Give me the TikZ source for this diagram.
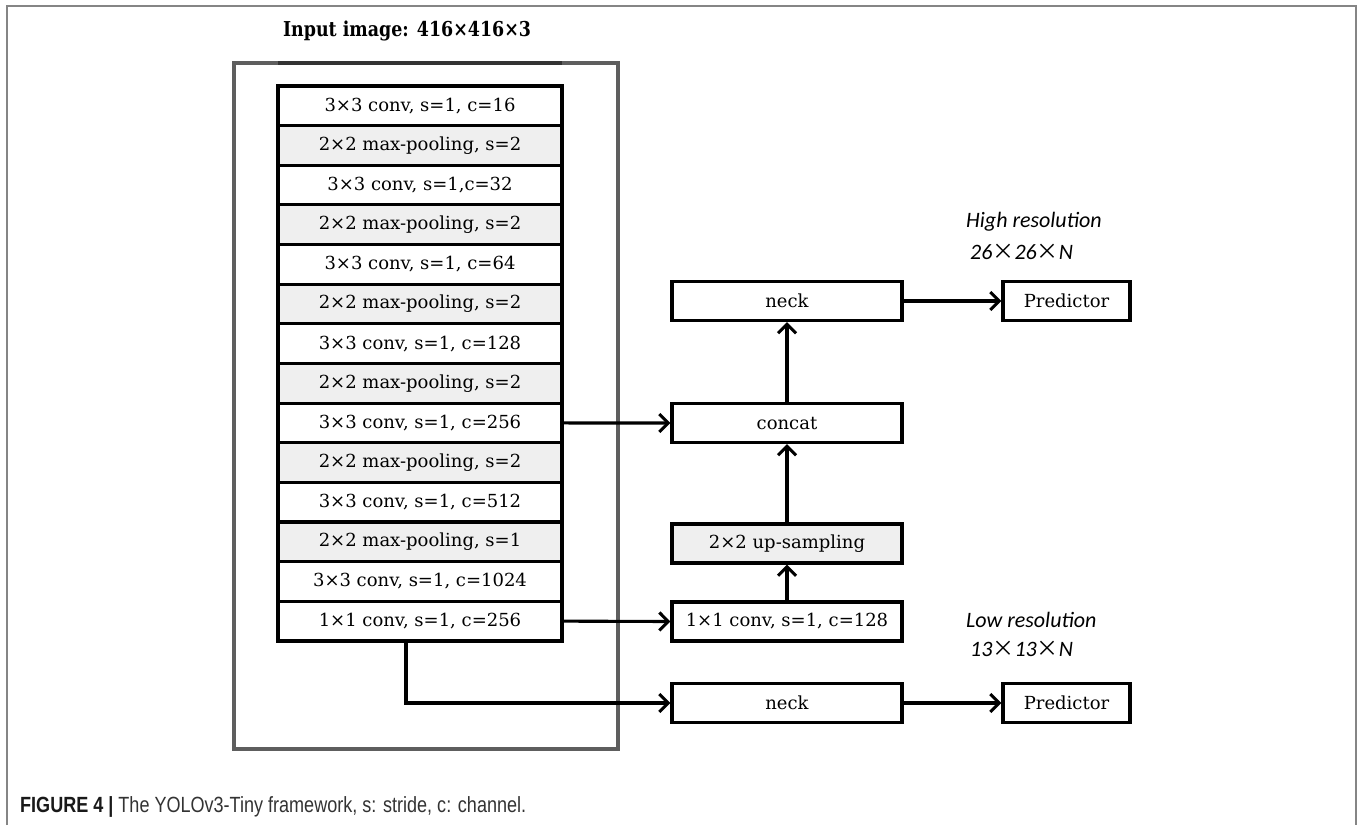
\documentclass[tikz,border=0pt]{standalone}
\usepackage{fontspec}
\setmainfont{DejaVu Serif}
\newfontfamily\titlefont{DejaVu Serif}[FakeStretch=0.85]
\newfontfamily\lblfont{Carlito}
\newfontfamily\cjk{Noto Sans CJK SC}
\newfontfamily\capfont{Liberation Sans}[FakeStretch=0.82]
\usetikzlibrary{arrows.meta}
\definecolor{poolgray}{HTML}{EFEFEF}
\definecolor{framegray}{HTML}{5E5E5E}
\definecolor{bordergray}{HTML}{858585}
\tikzset{
  layer/.style={draw=black, line width=3.1pt, minimum width=284pt, minimum height=39.64pt, inner sep=0pt, font=\fontsize{18}{20}\selectfont},
  pool/.style={layer, fill=poolgray},
  blk/.style={draw=black, line width=3.1pt, minimum width=230pt, minimum height=39pt, inner sep=0pt, font=\fontsize{18}{20}\selectfont},
  pblk/.style={blk, minimum width=127pt},
  arr/.style={line width=3.1pt, -{Straight Barb[length=9pt,width=18pt,line width=3.1pt]}},
  lbl/.style={anchor=west, inner sep=0pt, font=\lblfont\itshape\fontsize{22}{24}\selectfont},
}
\begin{document}
\begin{tikzpicture}[x=1pt,y=-1pt]
\useasboundingbox (0,0) rectangle (1360,825);
% figure border
\draw[bordergray, line width=2pt] (7,825) -- (7,6) -- (1356,6) -- (1356,825);
% title
\node[font=\titlefont\bfseries\fontsize{20.5}{22}\selectfont, inner sep=0pt] (title) at (407,31) {Input image: 416×416×3};
% gray frame
\draw[framegray, line width=4.5pt] (234,63) rectangle (618,749);
\draw[black!80, line width=4.5pt] (278,63) -- (562,63);
% stack
\node[layer] (r1)  at (420,105.82) {3×3 conv, s=1, c=16};
\node[pool]  (r2)  at (420,145.46) {2×2 max-pooling, s=2};
\node[layer] (r3)  at (420,185.10) {3×3 conv, s=1,c=32};
\node[pool]  (r4)  at (420,224.74) {2×2 max-pooling, s=2};
\node[layer] (r5)  at (420,264.38) {3×3 conv, s=1, c=64};
\node[pool]  (r6)  at (420,304.02) {2×2 max-pooling, s=2};
\node[layer] (r7)  at (420,343.66) {3×3 conv, s=1, c=128};
\node[pool]  (r8)  at (420,383.30) {2×2 max-pooling, s=2};
\node[layer] (r9)  at (420,422.94) {3×3 conv, s=1, c=256};
\node[pool]  (r10) at (420,462.58) {2×2 max-pooling, s=2};
\node[layer] (r11) at (420,502.22) {3×3 conv, s=1, c=512};
\node[pool]  (r12) at (420,541.86) {2×2 max-pooling, s=1};
\node[layer] (r13) at (420,581.50) {3×3 conv, s=1, c=1024};
\node[layer] (r14) at (420,621.14) {1×1 conv, s=1, c=256};
% right column
\node[blk] (neck1) at (787,301) {neck};
\node[pblk] (pred1) at (1066.5,301) {Predictor};
\node[blk] (concat) at (787,423) {concat};
\node[blk, fill=poolgray] (up) at (787,543.5) {2×2 up-sampling};
\node[blk] (c128) at (787,621.5) {1×1 conv, s=1, c=128};
\node[blk] (neck2) at (787,703) {neck};
\node[pblk] (pred2) at (1066.5,703) {Predictor};
% labels
\node[lbl] (hr) at (966,222) {High resolution};
\node[lbl] (hrs) at (970,252) {26{\cjk ×}26{\cjk ×}N};
\node[lbl] (lr) at (966,620) {Low resolution};
\node[lbl] (lrs) at (970,649) {13{\cjk ×}13{\cjk ×}N};
% connectors
\draw[arr] (r9.east) -- (concat.west);
\draw[arr] (r14.east) -- (c128.west);
\draw[arr] ([xshift=-14pt]r14.south) |- (neck2.west);
\draw[arr] (c128.north) -- (up.south);
\draw[arr] (up.north) -- (concat.south);
\draw[arr] (concat.north) -- (neck1.south);
\draw[arr] (neck1.east) -- (pred1.west);
\draw[arr] (neck2.east) -- (pred2.west);
% caption
\node[anchor=west, inner sep=0pt, font=\capfont\fontsize{22}{24}\selectfont, text=black!80] (cap) at (20,807) {\textbf{\color{black!90}FIGURE 4 |} The YOLOv3-Tiny framework, s: stride, c: channel.};
\end{tikzpicture}
\end{document}
